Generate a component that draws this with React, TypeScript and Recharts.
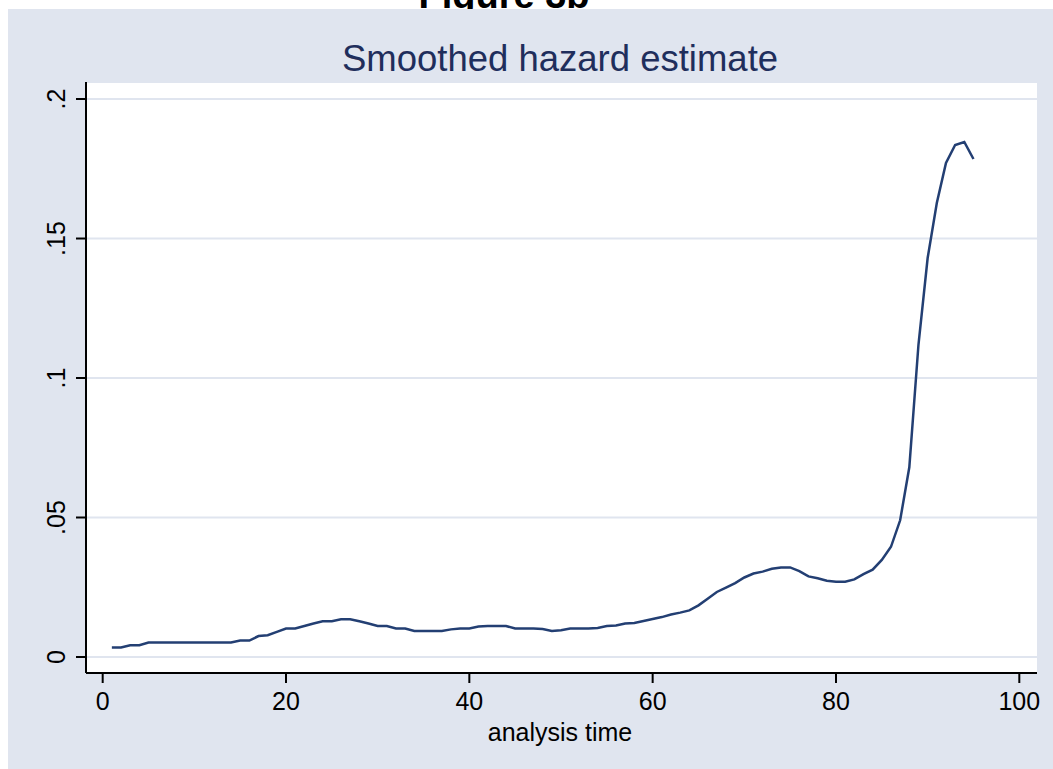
import React from 'react';
import { LineChart, Line, XAxis, YAxis, CartesianGrid } from 'recharts';

const analysisTime = [
  1, 2, 3, 4, 5, 6, 7, 8, 9, 10, 11, 12, 13, 14, 15, 16, 17, 18, 19, 20,
  21, 22, 23, 24, 25, 26, 27, 28, 29, 30, 31, 32, 33, 34, 35, 36, 37, 38, 39, 40,
  41, 42, 43, 44, 45, 46, 47, 48, 49, 50, 51, 52, 53, 54, 55, 56, 57, 58, 59, 60,
  61, 62, 63, 64, 65, 66, 67, 68, 69, 70, 71, 72, 73, 74, 75, 76, 77, 78, 79, 80,
  81, 82, 83, 84, 85, 86, 87, 88, 89, 90, 91, 92, 93, 94, 95,
];

const hazard = [
  0.0034, 0.0034, 0.0042, 0.0042, 0.0052, 0.0052, 0.0052, 0.0052, 0.0052, 0.0052,
  0.0052, 0.0052, 0.0052, 0.0052, 0.0059, 0.0059, 0.0075, 0.0078, 0.009, 0.0102,
  0.0102, 0.0111, 0.012, 0.0128, 0.0128, 0.0135, 0.0135, 0.0128, 0.012, 0.0111,
  0.0111, 0.0102, 0.0102, 0.0093, 0.0093, 0.0093, 0.0093, 0.0099, 0.0102, 0.0102,
  0.0109, 0.0111, 0.0111, 0.0111, 0.0102, 0.0102, 0.0102, 0.01, 0.0093, 0.0096,
  0.0102, 0.0102, 0.0102, 0.0104, 0.0111, 0.0113, 0.012, 0.0122, 0.0129, 0.0136,
  0.0143, 0.0152, 0.0159, 0.0167, 0.0185, 0.0209, 0.0233, 0.0249, 0.0265, 0.0285,
  0.0299, 0.0306, 0.0316, 0.0321, 0.0321, 0.0308, 0.0289, 0.0282, 0.0273, 0.027,
  0.027, 0.0278, 0.0297, 0.0313, 0.0348, 0.0395, 0.049, 0.068, 0.112, 0.143,
  0.1627, 0.1771, 0.1835, 0.1846, 0.1785,
];

const xTicks = [0, 20, 40, 60, 80, 100];
const yTicks = [0, 0.05, 0.1, 0.15, 0.2];
const yTickLabels = ['0', '.05', '.1', '.15', '.2'];

const data = analysisTime.map((t, i) => ({ t, h: hazard[i] }));

const FONT = '"Liberation Sans", Arial, Helvetica, sans-serif';
const BG = '#E0E5EF';
const GRID = '#E0E5EF';
const LINE = '#233F73';
const TITLE = '#1F2E5C';

const YTick = (props: any) => {
  const { x, y, payload } = props;
  const idx = yTicks.indexOf(payload.value);
  const label = idx >= 0 ? yTickLabels[idx] : String(payload.value);
  return (
    <text
      x={x}
      y={y}
      transform={`rotate(-90 ${x} ${y})`}
      textAnchor="middle"
      fontFamily={FONT}
      fontSize={25}
      fill="#000"
    >
      {label}
    </text>
  );
};

export default function App() {
  return (
    <div
      style={{
        position: 'absolute',
        left: 0,
        top: 0,
        width: 1053,
        height: 769,
        background: '#fff',
        overflow: 'hidden',
      }}
    >
      <svg
        width={1053}
        height={769}
        style={{ position: 'absolute', left: 0, top: 0 }}
      >
        <text
          x={504}
          y={8}
          textAnchor="middle"
          fontFamily={FONT}
          fontWeight="bold"
          fontSize={38}
          fill="#000"
        >
          Figure 3b
        </text>
        <rect x={8} y={9} width={1045} height={760} fill={BG} />
        <text
          x={560}
          y={71}
          textAnchor="middle"
          fontFamily={FONT}
          fontSize={36.5}
          fill={TITLE}
        >
          Smoothed hazard estimate
        </text>
        <text
          x={560}
          y={741}
          textAnchor="middle"
          fontFamily={FONT}
          fontSize={25}
          fill="#000"
        >
          analysis time
        </text>
      </svg>
      <div style={{ position: 'absolute', left: 0, top: 0 }}>
        <LineChart
          width={1053}
          height={769}
          data={data}
          margin={{ top: 82, right: 16, bottom: 36, left: 36 }}
        >
          <CartesianGrid
            horizontal={true}
            vertical={false}
            fill="#fff"
            stroke={GRID}
            strokeWidth={2}
          />
          <XAxis
            dataKey="t"
            type="number"
            domain={[-1.82, 101.93]}
            ticks={xTicks}
            allowDataOverflow
            height={60}
            tickSize={10}
            tickMargin={9}
            axisLine={{ stroke: '#000', strokeWidth: 2 }}
            tickLine={{ stroke: '#000', strokeWidth: 2 }}
            tick={{ fill: '#000', fontSize: 25, fontFamily: FONT }}
          />
          <YAxis
            type="number"
            domain={[-0.00574, 0.2061]}
            ticks={yTicks}
            allowDataOverflow
            width={50}
            tickSize={10}
            tickMargin={11}
            axisLine={{ stroke: '#000', strokeWidth: 2 }}
            tickLine={{ stroke: '#000', strokeWidth: 2 }}
            tick={<YTick />}
          />
          <Line
            type="linear"
            dataKey="h"
            stroke={LINE}
            strokeWidth={2.5}
            dot={false}
            isAnimationActive={false}
          />
        </LineChart>
      </div>
    </div>
  );
}
